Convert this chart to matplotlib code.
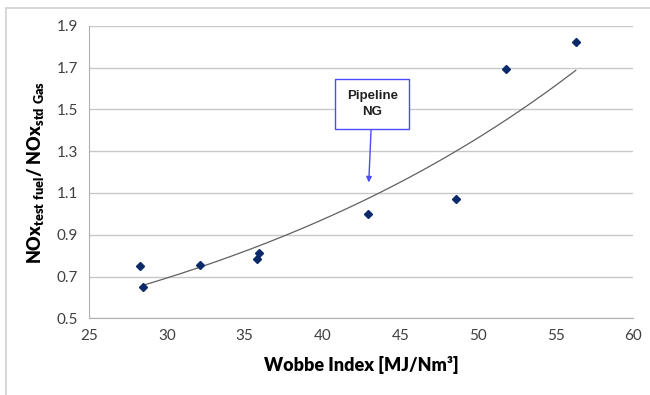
import numpy as np
import matplotlib.pyplot as plt
from matplotlib.patches import Rectangle

# measured points
wobbe = [28.25, 28.47, 32.1, 35.77, 35.9, 42.95, 48.6, 51.8, 56.3]
nox_ratio = [0.752, 0.652, 0.756, 0.785, 0.812, 0.997, 1.07, 1.695, 1.82]

x_ticks = [25, 30, 35, 40, 45, 50, 55, 60]
y_ticks = [0.5, 0.7, 0.9, 1.1, 1.3, 1.5, 1.7, 1.9]

# pipeline NG annotation
ng_label = "Pipeline\nNG"
ng_arrow_tip = (42.98, 1.15)
ng_box = (43.2, 1.525)

plt.rcParams['font.family'] = ['Lato', 'DejaVu Sans']

fig = plt.figure(figsize=(6.5, 3.95), dpi=100)
ax = fig.add_axes([89.3 / 650, 1 - 318.3 / 395, (633.3 - 89.3) / 650, (318.3 - 25.7) / 395])

# outer frame (only left/top visible in the original crop)
fig.patches.append(Rectangle((6 / 650, -0.1), 1.2, 1 - 8 / 395 + 0.1, transform=fig.transFigure,
                             fill=False, edgecolor='#d0d0d0', linewidth=1.2))

# exponential trendline fitted to the data
b, ln_a = np.polyfit(wobbe, np.log(nox_ratio), 1)
xs = np.linspace(min(wobbe[1], wobbe[0]) + 0.22, max(wobbe), 200)
ax.plot(xs, np.exp(ln_a) * np.exp(b * xs), color='#606060', linewidth=0.9, zorder=2)

ax.plot(wobbe, nox_ratio, linestyle='none', marker='D', markersize=4,
        color='#0a2a6a', zorder=3)

ax.set_xlim(25, 60)
ax.set_ylim(0.5, 1.9)
ax.set_xticks(x_ticks)
ax.set_yticks(y_ticks)
ax.set_yticklabels([f"{v:.1f}" for v in y_ticks])
ax.tick_params(length=0, labelsize=11, colors='#404040', pad=8)
ax.grid(axis='y', color='#c8c8c8', linewidth=1)
ax.set_axisbelow(True)
for s in ['top', 'right']:
    ax.spines[s].set_visible(False)
for s in ['left', 'bottom']:
    ax.spines[s].set_color('#b0b0b0')

ax.set_xlabel("Wobbe Index [MJ/Nm³]", fontsize=13, fontweight='heavy', labelpad=9)
ax.set_ylabel(r"NOx$_{\mathregular{test\ fuel}}$/ NOx$_{\mathregular{std\ Gas}}$",
              fontsize=13, fontweight='heavy', labelpad=8)

ax.annotate(ng_label, xy=ng_arrow_tip, xytext=ng_box, ha='center', va='center',
            fontsize=9.5, fontweight='bold', color='#202020', family='Liberation Sans',
            linespacing=1.35,
            bbox=dict(boxstyle='square,pad=0.85', facecolor='white', edgecolor='#4a4aff', linewidth=1),
            arrowprops=dict(arrowstyle='-|>', color='#4a4aff', linewidth=1, mutation_scale=8,
                            shrinkA=0, shrinkB=0))

fig.savefig('out.png', dpi=100)
